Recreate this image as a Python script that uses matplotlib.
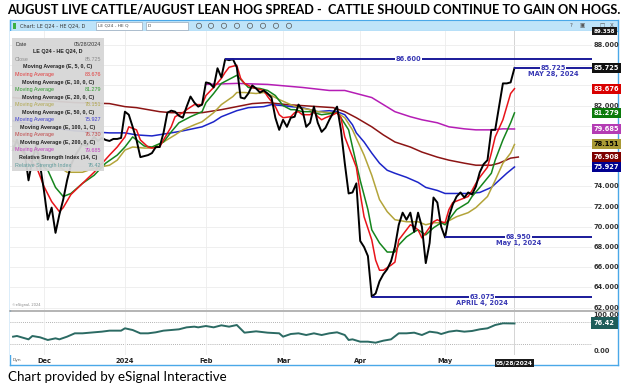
import numpy as np
import matplotlib.pyplot as plt
import matplotlib.transforms as mtransforms
from matplotlib.patches import Rectangle, Circle

W, H, DPI = 629, 391, 100

title = "AUGUST LIVE CATTLE/AUGUST LEAN HOG SPREAD -  CATTLE SHOULD CONTINUE TO GAIN ON HOGS."
footer = "Chart provided by eSignal Interactive"

# x axis = trading-day index, 0 = Dec 1 2023
month_days = [0, 21, 42, 62, 82, 104]
month_labels = ["Dec", "2024", "Feb", "Mar", "Apr", "May"]
last_day = 122
last_date = "05/28/2024"

# daily close of the spread, starting at day -8
close_start = -8
close = [77.6, 78.6, 77.6, 77.4, 74.6, 76.6, 78.1, 76.1,
         73.6, 70.7, 71.9, 69.4, 71.2, 72.7, 74.6, 76.1, 77.0, 77.6,
         78.2, 78.0, 78.4, 78.9, 78.5, 78.8, 78.6, 78.5, 78.7, 78.7,
         78.8, 81.4, 81.1, 79.9, 78.6, 76.9, 77.0, 77.1, 77.3, 77.9,
         77.9, 79.3, 81.3, 81.5, 81.4, 81.0, 80.8, 81.9, 82.9, 82.3,
         81.9, 82.1, 84.3, 84.2, 83.8, 85.7, 84.8, 86.6, 86.5, 86.6,
         85.8, 82.8, 82.7, 83.2, 84.0, 83.7, 83.3, 83.5, 83.2, 82.8,
         80.8, 79.6, 80.6, 79.9, 80.8, 80.9, 82.1, 81.6, 79.9, 80.3,
         81.9, 80.3, 79.4, 79.8, 80.6, 81.3, 81.9, 79.6, 76.3, 73.3,
         73.4, 74.3, 68.6, 68.0, 67.1, 63.075, 63.4, 64.6, 65.3, 65.8,
         66.6, 68.0, 70.2, 71.4, 70.7, 71.4, 69.5, 71.4, 70.0, 66.4,
         68.4, 72.9, 72.4, 70.0, 68.95, 71.0, 72.2, 73.0, 73.4, 72.9,
         73.4, 73.2, 74.0, 75.4, 76.2, 76.6, 79.6, 79.6, 81.9, 84.2,
         84.2, 84.3, 85.725]

ma5_day = [-8, -6, -4, -2, 0, 2, 4, 5, 7, 10, 13, 17, 19, 21, 22, 24, 25, 27, 28, 30,
           31, 33, 34, 36, 37, 39, 41, 42, 44, 46, 47, 48, 50, 51, 52, 54, 57, 58, 60, 61,
           62, 64, 65, 66, 67, 69, 70, 71, 72, 73, 75, 76, 77, 78, 80, 81, 82, 83, 85, 86,
           87, 88, 90, 91, 92, 94, 95, 96, 97, 98, 99, 101, 102, 103, 104, 105, 106, 108, 110, 111,
           112, 113, 115, 116, 117, 119, 120, 121, 122]
ma5 = [77.8, 77.6, 76.7, 76.0, 74.0, 72.5, 71.5, 71.9, 73.2, 74.3, 75.4, 77.1, 77.9, 78.9, 79.9, 79.6, 78.6, 77.9, 77.8, 77.9,
       78.6, 79.9, 80.9, 81.3, 81.6, 82.1, 82.1, 83.0, 83.8, 84.7, 85.3, 85.8, 86.0, 84.7, 84.2, 83.8, 83.5, 82.9, 81.9, 81.1,
       80.8, 80.9, 81.3, 81.4, 81.1, 81.1, 81.4, 80.9, 80.6, 80.8, 81.1, 81.3, 80.8, 78.9, 76.9, 75.9, 73.3, 71.0, 68.7, 66.7,
       65.7, 65.7, 66.2, 66.5, 68.7, 69.7, 70.2, 70.0, 69.7, 68.9, 69.4, 70.5, 70.7, 70.5, 70.4, 71.7, 72.4, 72.7, 73.0, 73.6,
       74.3, 74.9, 75.9, 77.3, 78.9, 80.6, 81.9, 83.2, 83.676]

ma10_day = [-8, -5, -2, 1, 3, 5, 7, 10, 13, 16, 19, 21, 23, 24, 26, 28, 31, 33, 35, 38,
            41, 42, 44, 46, 49, 50, 52, 53, 56, 58, 60, 62, 64, 65, 67, 69, 70, 72, 74, 76,
            77, 79, 80, 82, 84, 85, 87, 89, 91, 92, 94, 96, 97, 99, 101, 103, 104, 106, 107, 110,
            111, 113, 116, 117, 119, 121, 122]
ma10 = [78.0, 77.3, 76.5, 75.6, 73.9, 73.0, 73.3, 74.3, 75.1, 76.3, 77.1, 77.9, 78.9, 78.6, 78.0, 77.9, 78.4, 79.4, 80.3, 80.9,
        81.4, 82.3, 83.2, 84.2, 84.8, 85.0, 84.2, 83.8, 83.7, 83.5, 83.0, 82.0, 81.6, 81.6, 81.4, 81.4, 81.3, 81.1, 81.2, 81.3,
        80.8, 79.6, 77.9, 74.6, 71.7, 69.7, 68.4, 67.5, 67.5, 68.2, 69.0, 69.5, 69.7, 69.2, 69.9, 70.4, 70.2, 71.2, 71.7, 72.4,
        73.0, 73.9, 75.3, 76.6, 78.6, 80.3, 81.279]

ma20_day = [-8, -4, 0, 3, 6, 10, 13, 17, 19, 21, 23, 26, 28, 31, 34, 36, 39, 41, 44, 46,
            49, 50, 52, 55, 57, 59, 61, 64, 66, 69, 71, 74, 76, 78, 80, 83, 85, 87, 89, 91,
            94, 97, 99, 101, 103, 104, 107, 110, 112, 115, 117, 119, 121, 122]
ma20 = [78.5, 77.8, 77.0, 76.2, 75.4, 75.4, 75.8, 76.1, 76.6, 77.6, 77.9, 77.8, 77.8, 78.4, 79.1, 79.6, 80.1, 80.4, 81.3, 82.1,
        82.9, 83.3, 83.3, 83.2, 83.3, 83.0, 82.6, 82.1, 81.8, 81.6, 81.4, 81.3, 81.3, 80.8, 79.6, 77.1, 75.1, 72.7, 71.5, 70.7,
        70.5, 70.5, 70.2, 70.4, 70.4, 70.4, 71.0, 71.4, 71.9, 73.0, 74.6, 76.3, 77.3, 78.151]

ma50_day = [-8, 0, 8, 17, 21, 24, 28, 33, 36, 41, 44, 46, 50, 53, 57, 59, 62, 64, 67, 71,
            74, 76, 78, 80, 81, 83, 85, 87, 89, 91, 94, 97, 99, 102, 104, 107, 110, 113, 116, 118,
            120, 122]
ma50 = [80.5, 79.9, 79.5, 79.3, 79.3, 79.1, 79.0, 79.3, 79.5, 79.9, 80.4, 80.9, 81.5, 81.8, 81.9, 82.1, 82.0, 81.9, 81.8, 81.4,
        81.5, 81.4, 81.1, 80.1, 79.3, 78.4, 77.3, 76.3, 75.6, 75.3, 74.9, 74.4, 73.9, 73.6, 73.3, 73.3, 73.3, 73.4, 73.9, 74.6,
        75.3, 75.927]

# MA100 is plotted with a 1-bar offset, so it runs one day past the last close
ma100_day = [-8, 0, 8, 17, 21, 24, 30, 33, 37, 41, 46, 50, 54, 58, 63, 67, 71, 75, 78, 81,
             85, 88, 91, 95, 98, 102, 105, 109, 112, 116, 118, 121, 123]
ma100 = [82.8, 82.5, 82.3, 82.2, 81.9, 81.8, 81.4, 81.3, 81.3, 81.3, 81.6, 81.9, 82.2, 82.3, 82.1, 82.0, 81.9, 81.8, 81.4, 80.8,
         79.9, 79.1, 78.4, 77.9, 77.4, 76.9, 76.6, 76.3, 76.1, 76.1, 76.3, 76.8, 76.908]

ma200_day = [42, 50, 58, 67, 74, 78, 81, 85, 88, 91, 95, 98, 102, 105, 109, 112, 116, 119, 122]
ma200 = [84.1, 84.2, 84.1, 83.8, 83.5, 83.5, 83.2, 82.8, 82.1, 81.4, 80.9, 80.6, 80.3, 79.9, 79.7, 79.6, 79.6, 79.7, 79.685]

rsi_day = [-8, -7, -4, -3, -1, 1, 3, 4, 6, 8, 10, 13, 15, 17, 19, 20, 21, 23, 25, 27,
           29, 31, 33, 35, 37, 39, 40, 41, 42, 44, 46, 48, 50, 52, 55, 58, 61, 62, 64, 66,
           68, 70, 72, 74, 76, 78, 79, 80, 82, 84, 86, 88, 90, 92, 94, 96, 98, 100, 102, 103,
           105, 107, 109, 111, 113, 115, 117, 119, 122]
rsi = [39.8, 41.7, 32.4, 41.7, 38.0, 30.6, 35.2, 32.4, 39.8, 49.1, 49.1, 51.9, 53.7, 56.5, 56.5, 56.5, 63.0, 58.3, 49.1, 49.1,
       51.9, 56.5, 58.3, 60.2, 65.7, 67.6, 65.7, 67.6, 69.4, 65.7, 71.3, 67.6, 72.2, 50.9, 54.6, 50.9, 49.1, 39.8, 47.2, 49.1,
       44.4, 49.1, 44.4, 49.1, 51.9, 44.4, 30.6, 32.4, 25.9, 25.9, 23.1, 28.7, 32.4, 49.1, 49.1, 50.9, 44.4, 53.7, 50.9, 47.2,
       53.7, 56.5, 53.7, 55.6, 60.2, 63.0, 72.2, 76.9, 76.42]

price_ticks = list(range(62, 90, 2))
rsi_labels = [100, 0]
rsi_bands = [80, 20]
top_marker = 89.358

# high / low reference lines
levels = [86.600, 85.725, 68.950, 63.075]
level_day = [47, 122, 104, 85]
level_note = ["", "MAY 28, 2024", "May 1, 2024", "APRIL 4, 2024"]

legend_rows = [
    ("Date", "05/28/2024", "#333333", False),
    ("LE Q24 - HE Q24, D", None, "#222222", True),
    ("Close", "85.725", "#8c8c8c", False),
    ("Moving Average (E, 5, 0, C)", None, "#222222", True),
    ("Moving Average", "83.676", "#e23a3a", False),
    ("Moving Average (E, 10, 0, C)", None, "#222222", True),
    ("Moving Average", "81.279", "#2c9a2c", False),
    ("Moving Average (E, 20, 0, C)", None, "#222222", True),
    ("Moving Average", "78.151", "#b0a64c", False),
    ("Moving Average (E, 50, 0, C)", None, "#222222", True),
    ("Moving Average", "75.927", "#3a3ad0", False),
    ("Moving Average (E, 100, 1, C)", None, "#222222", True),
    ("Moving Average", "76.730", "#c04444", False),
    ("Moving Average (E, 200, 0, C)", None, "#222222", True),
    ("Moving Average", "79.685", "#c03cc0", False),
    ("Relative Strength Index (14, C)", None, "#222222", True),
    ("Relative Strength Index", "76.42", "#5e9a9a", False),
]

C5, C10, C20 = "#e8141a", "#15851d", "#b3a43a"
C50, C100, C200 = "#1d25c8", "#8c1414", "#b51db5"
CRSI = "#2b6a63"
LEVEL = "#1a1a9a"
LEVEL_TXT = "#3838b4"
FRAME = "#4aa8e8"

fig = plt.figure(figsize=(W / DPI, H / DPI), dpi=DPI)


def box(x0, y0, x1, y1):
    return [x0 / W, 1 - y1 / H, (x1 - x0) / W, (y1 - y0) / H]


def pixel_axes(z):
    a = fig.add_axes([0, 0, 1, 1], zorder=z)
    a.set_xlim(0, W)
    a.set_ylim(H, 0)
    a.axis("off")
    return a


bg = pixel_axes(0)
ax = fig.add_axes(box(10, 31, 592, 310), zorder=2)
ax2 = fig.add_axes(box(10, 312, 592, 355), zorder=2)
fg = pixel_axes(5)

XLIM = (-8.8, 142.1)

# --- price panel ---
ax.plot(ma200_day, ma200, color=C200, lw=1.1, zorder=3)
ax.plot(ma100_day, ma100, color=C100, lw=1.1, zorder=3)
ax.plot(ma50_day, ma50, color=C50, lw=1.1, zorder=3)
ax.plot(ma20_day, ma20, color=C20, lw=1.1, zorder=3)
ax.plot(ma10_day, ma10, color=C10, lw=1.1, zorder=3)
ax.plot(ma5_day, ma5, color=C5, lw=1.1, zorder=3)
days = np.arange(close_start, close_start + len(close))
ax.plot(days, close, color="black", lw=1.4, zorder=4)

ax.set_xlim(*XLIM)
ax.set_ylim(61.76, 89.39)
ax.set_yticks(price_ticks)
ax.set_xticks(month_days)
ax.grid(color="#ececec", lw=0.6)
ax.axvline(last_day, color="#d4d4d4", lw=0.7, zorder=1)
ax.tick_params(length=0, labelleft=False, labelbottom=False)
for s in ax.spines.values():
    s.set_visible(False)

for v, d0, note in zip(levels, level_day, level_note):
    ax.hlines(v, d0, XLIM[1], color=LEVEL, lw=1.4, zorder=5)
    xm = (d0 + XLIM[1]) / 2
    ax.text(xm, v, f"{v:.3f}", ha="center", va="center", fontsize=4.8,
            fontweight="bold", color=LEVEL_TXT, zorder=6,
            bbox=dict(fc="white", ec="none", pad=0.4))
    if note:
        ax.annotate(note, (xm, v), xytext=(0, -2.2), textcoords="offset points",
                    ha="center", va="top", fontsize=4.8, fontweight="bold",
                    color=LEVEL_TXT, zorder=6)

tags = [(top_marker, "#1a1a1a", "white", 4.0),
        (close[-1], "#111111", "white", 4.8),
        (ma5[-1], "#d90000", "white", 4.8),
        (ma10[-1], "#0b7a0b", "white", 4.8),
        (ma200[-1], "#b43cb4", "white", 4.8),
        (ma20[-1], "#a99a35", "black", 4.8),
        (ma100[-1], "#7d0000", "white", 4.8),
        (ma50[-1], "#000090", "white", 4.8)]

trans = mtransforms.blended_transform_factory(ax.transAxes, ax.transData)
# axis labels that sit under a value tag are hidden in the original
for t in price_ticks:
    if min(abs(t - v) for v, *_ in tags) < 0.7:
        continue
    ax.text(1.003, t, f"{t:.3f}", transform=trans, ha="left", va="center",
            fontsize=4.8, fontweight="bold", color="#333333", zorder=2)

for v, fc, tc, fs in tags:
    ax.text(1.003, v, f"{v:.3f}", transform=trans, ha="left", va="center",
            fontsize=fs, fontweight="bold", color=tc, zorder=8,
            bbox=dict(boxstyle="square,pad=0.3", fc=fc, ec="none"))

ax.text(0.004, 0.015, "\u00a9eSignal, 2024", transform=ax.transAxes,
        fontsize=2.6, color="#888888")

# --- RSI panel ---
ax2.plot(rsi_day, rsi, color=CRSI, lw=1.4, zorder=3)
for b in rsi_bands:
    ax2.axhline(b, color="#9a9a9a", lw=0.6, ls=(0, (1, 1.5)), zorder=1)
ax2.set_xlim(*XLIM)
ax2.set_ylim(-11.1, 108.3)
ax2.set_yticks([])
ax2.set_xticks(month_days, month_labels)
ax2.grid(axis="x", color="#ececec", lw=0.6)
ax2.axvline(last_day, color="#d4d4d4", lw=0.7, zorder=1)
ax2.tick_params(length=0, labelsize=4.8, pad=2.2, colors="#222222")
for lab in ax2.get_xticklabels():
    lab.set_fontweight("bold")
for s in ax2.spines.values():
    s.set_visible(False)

trans2 = mtransforms.blended_transform_factory(ax2.transAxes, ax2.transData)
for r in rsi_labels:
    ax2.text(1.003, r, f"{r:.2f}", transform=trans2, ha="left", va="center",
             fontsize=4.8, fontweight="bold", color="#333333")
ax2.text(1.003, rsi[-1], f"{rsi[-1]:.2f}", transform=trans2, ha="left", va="center",
         fontsize=4.8, fontweight="bold", color="white", zorder=8,
         bbox=dict(boxstyle="square,pad=0.45", fc="#1e5d5a", ec="none"))
ax2.annotate(last_date, xy=(last_day, 0), xycoords=("data", "axes fraction"),
             xytext=(0, -5.6), textcoords="offset points", ha="center", va="center",
             fontsize=4.2, fontweight="bold", color="white",
             bbox=dict(boxstyle="square,pad=0.25", fc="#1a1a1a", ec="none"))

# --- window decoration ---
bg.add_patch(Rectangle((10, 20), 608, 11, fc="#bfe4f9", ec=FRAME, lw=0.8))
bg.plot([10, 10], [20, 365], color=FRAME, lw=1.0)
bg.plot([618, 618], [20, 365], color=FRAME, lw=1.0)
bg.plot([10, 618], [365, 365], color=FRAME, lw=1.0)
bg.plot([10, 618], [311, 311], color="#a8a8a8", lw=1.2)
bg.add_patch(Rectangle((13, 22.5), 3, 6, fc="#3cb043", ec="none"))
bg.text(20, 25.8, "Chart: LE Q24 - HE Q24, D", fontsize=3.6, va="center", color="#333333")
bg.add_patch(Rectangle((96, 22), 46, 7.5, fc="white", ec="#9ab", lw=0.5))
bg.text(98, 25.8, "LE Q24 - HE Q", fontsize=3.2, va="center", color="#444444")
bg.add_patch(Rectangle((146, 22), 42, 7.5, fc="white", ec="#9ab", lw=0.5))
bg.text(148, 25.8, "D", fontsize=3.2, va="center", color="#444444")
for cx in [199, 211, 224, 237, 250, 263, 276, 289]:
    bg.add_patch(Circle((cx, 25.8), 2.6, fc="none", ec="#555555", lw=0.5))
for cx, s in zip([571, 582, 592, 602, 612], ["?", "\u25a3", "_", "\u25a1", "X"]):
    bg.text(cx, 25.8, s, fontsize=4, ha="center", va="center", color="#555555")
bg.text(12, 34.5, "LE Q24 - HE Q24, D (Dynamic) [eSignal 4]", fontsize=2.4,
        va="center", color="#666666")
bg.text(13, 360, "Dyn", fontsize=3.2, va="center", color="#555555")

t_title = bg.text(7, 10, title, fontsize=11, fontweight="bold", va="center",
                  family="Lato", color="black")
t_foot = bg.text(8, 377, footer, fontsize=9, va="center", family="Lato", color="black")

# legend panel drawn over the chart
fg.add_patch(Rectangle((12, 38), 92, 133, fc="#d6d6d6", ec="none", alpha=0.95))
for i, (left, right, col, head) in enumerate(legend_rows):
    y = 44.3 + i * 7.55
    if head:
        fg.text(58, y, left, ha="center", va="center", fontsize=3.9,
                fontweight="bold", color=col, family="Liberation Sans")
    else:
        fg.text(15, y, left, ha="left", va="center", fontsize=3.9,
                color=col, family="Liberation Sans")
        fg.text(101, y, right, ha="right", va="center", fontsize=3.9,
                color=col, family="Liberation Sans")

# stretch title and footer to their widths in the reference
fig.canvas.draw()
rend = fig.canvas.get_renderer()
for t, target in [(t_title, 610), (t_foot, 220)]:
    w = t.get_window_extent(rend).width
    t.set_fontsize(t.get_fontsize() * target / w)

fig.savefig("out.png", dpi=DPI)
